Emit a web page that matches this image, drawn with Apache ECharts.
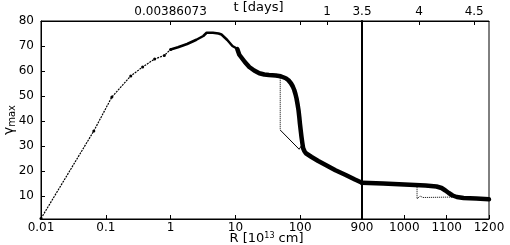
<!DOCTYPE html>
<html><head><meta charset="utf-8">
<script src="https://cdn.jsdelivr.net/npm/echarts@6/dist/echarts.min.js"></script>
<style>html,body{margin:0;padding:0;background:#fff}#c{width:510px;height:245px}</style>
</head><body><div id="c"></div>
<script>
// ---- data ----
const bottomTicksLog = [0.01, 0.1, 1, 10, 100];
const bottomTicksLin = [900, 1000, 1100, 1200];
const yTicks = [10, 20, 30, 40, 50, 60, 70, 80];
const topTickR = [1, 260, 900, 1035, 1165];
const topTickLabels = ['0.00386073', '1', '3.5', '4', '4.5'];
const topMinorR = [10, 100];

const earlyR = [0.01, 0.0653, 0.124, 0.243, 0.37, 0.567, 0.8, 1.0];
const earlyG = [1, 36, 49.6, 58, 61.6, 64.8, 66.2, 68.6];

const peakR = [1.0, 1.3, 1.8, 2.5, 3.2, 3.6, 4.5, 5.5, 6.1, 7.5, 9.0, 10.2, 10.7];
const peakG = [68.6, 69.5, 70.8, 72.5, 74, 75.3, 75.3, 75, 74.6, 72.4, 70, 69.2, 68.8];

const mainR = [10.7, 11.5, 12.4, 14, 16.4, 19.5, 23.4, 28, 33, 42, 50, 60, 66, 72, 77, 81, 84.5, 87.7, 91, 94.2, 97, 99, 102, 104.7, 108, 111.2, 116, 122.4, 150, 190, 248, 350, 505, 700, 900];
const mainG = [68.8, 66.5, 65.4, 63.6, 61.6, 60.2, 59.1, 58.6, 58.4, 58.2, 57.9, 57.1, 56.3, 55.1, 53.8, 52.4, 50.8, 49.1, 46.8, 44.4, 41.5, 39.1, 36.2, 33.7, 31.2, 29.1, 28.0, 27.1, 25.6, 24.0, 22.4, 20.3, 18.4, 16.6, 15.3];

const lateR = [900, 950, 1000, 1050, 1076, 1088, 1097, 1105, 1114, 1124, 1140, 1170, 1200];
const lateG = [15.3, 15.0, 14.6, 14.2, 13.8, 13.2, 12.2, 11.2, 10.2, 9.6, 9.2, 9.0, 8.7];

const dropAR = [49.2, 49.2];
const dropAG = [57.9, 36.4];
const tailAR = [49.2, 96.5, 105];
const tailAG = [36.4, 28.7, 30.2];

const dropBR = [1030, 1030, 1037, 1044, 1124];
const dropBG = [14.5, 8.8, 10.0, 9.4, 9.6];

// ---- helpers ----
const zip = (xs, ys) => xs.map((x, i) => [x, ys[i]]);
const fmtNum = v => String(Number(Number(v).toPrecision(6)));
const nearestTop = v => {
  let best = 0, bd = Infinity;
  topTickR.forEach((r, i) => { const d = Math.abs(Math.log10(r) - Math.log10(v)); if (d < bd) { bd = d; best = i; } });
  return topTickLabels[best];
};
const FONT = 'DejaVu Sans';
const lbl = { color: '#000', fontFamily: FONT, fontSize: 12 };
const axLine = { show: true, lineStyle: { color: '#000', width: 1 } };
const tick = (vals) => ({ show: true, inside: true, length: 4, customValues: vals, lineStyle: { color: '#000', width: 1 } });
const gridBase = { top: 21, height: 198, show: true, borderColor: '#000', borderWidth: 1, backgroundColor: 'transparent', containLabel: false, outerBoundsMode: 'none' };

const chart = echarts.init(document.getElementById('c'), null, { renderer: 'canvas' });
chart.setOption({
  animation: false,
  backgroundColor: '#fff',
  grid: [
    Object.assign({ left: 41, width: 321 }, gridBase),
    Object.assign({ left: 362, width: 127 }, gridBase)
  ],
  xAxis: [
    { gridIndex: 0, type: 'log', logBase: 10, min: 0.01, max: 900, position: 'bottom',
      axisLine: axLine, axisTick: tick(bottomTicksLog), splitLine: { show: false }, minorTick: { show: false },
      axisLabel: Object.assign({ customValues: bottomTicksLog, margin: 3, formatter: fmtNum }, lbl),
      name: '{m|R [10}{sup|13}{m| cm]}', nameLocation: 'middle', nameGap: 13, nameMoveOverlap: false,
      nameTextStyle: Object.assign({}, lbl, { fontSize: 13, lineHeight: 13, padding: [0, 0, 0, 130],
        rich: { m: { fontSize: 13, lineHeight: 13, fontFamily: FONT, color: '#000', verticalAlign: 'bottom' },
                sup: { fontSize: 8, lineHeight: 13, verticalAlign: 'top', fontFamily: FONT, color: '#000' } } }) },
    { gridIndex: 0, type: 'log', logBase: 10, min: 0.01, max: 900, position: 'top',
      axisLine: axLine, axisTick: tick(topTickR.filter(r => r < 900).concat(topMinorR)), splitLine: { show: false },
      axisLabel: Object.assign({ customValues: topTickR.filter(r => r < 900), margin: 3, formatter: nearestTop }, lbl),
      name: 't [days]', nameLocation: 'middle', nameGap: 7, nameMoveOverlap: false,
      nameTextStyle: Object.assign({}, lbl, { fontSize: 13, padding: [0, 0, 0, 114] }) },
    { gridIndex: 1, type: 'value', min: 900, max: 1200, position: 'bottom',
      axisLine: axLine, axisTick: tick(bottomTicksLin), splitLine: { show: false },
      axisLabel: Object.assign({ customValues: bottomTicksLin, margin: 3, formatter: fmtNum }, lbl) },
    { gridIndex: 1, type: 'value', min: 900, max: 1200, position: 'top',
      axisLine: axLine, axisTick: tick(topTickR.filter(r => r >= 900)), splitLine: { show: false },
      axisLabel: Object.assign({ customValues: topTickR.filter(r => r >= 900), margin: 3, formatter: nearestTop }, lbl) }
  ],
  yAxis: [
    { gridIndex: 0, type: 'value', min: 0.8, max: 80, position: 'left',
      axisLine: axLine, axisTick: tick(yTicks), splitLine: { show: false },
      axisLabel: Object.assign({ customValues: yTicks, margin: 7, formatter: fmtNum }, lbl),
      name: '{g|γ}{sub|max}', nameLocation: 'middle', nameGap: 24, nameRotate: 90, nameMoveOverlap: false,
      nameTextStyle: Object.assign({ rich: { g: { fontSize: 14, fontFamily: FONT, color: '#000' }, sub: { fontSize: 10, fontFamily: FONT, color: '#000', verticalAlign: 'bottom', padding: [6, 0, 0, 0] } } }, lbl) },
    { gridIndex: 1, type: 'value', min: 0.8, max: 80, position: 'left',
      axisLine: { show: true, lineStyle: { color: '#000', width: 2 } }, axisTick: { show: false }, axisLabel: { show: false }, splitLine: { show: false } }
  ],
  series: [
    { type: 'line', xAxisIndex: 0, yAxisIndex: 0, data: zip(earlyR, earlyG), symbol: 'circle', symbolSize: 3, showSymbol: true,
      itemStyle: { color: '#000' }, lineStyle: { color: '#000', width: 1.2, type: [2, 1] } },
    { type: 'line', xAxisIndex: 0, yAxisIndex: 0, data: zip(peakR, peakG), symbol: 'none',
      lineStyle: { color: '#000', width: 2.5 } },
    { type: 'line', xAxisIndex: 0, yAxisIndex: 0, data: zip(mainR, mainG), symbol: 'none',
      lineStyle: { color: '#000', width: 4.5, join: 'round', cap: 'round' } },
    { type: 'line', xAxisIndex: 0, yAxisIndex: 0, data: zip(dropAR, dropAG), symbol: 'none',
      lineStyle: { color: '#000', width: 1, type: [1, 1] } },
    { type: 'line', xAxisIndex: 0, yAxisIndex: 0, data: zip(tailAR, tailAG), symbol: 'none',
      lineStyle: { color: '#000', width: 1 } },
    { type: 'line', xAxisIndex: 2, yAxisIndex: 1, data: zip(lateR, lateG), symbol: 'none',
      lineStyle: { color: '#000', width: 4.5, join: 'round', cap: 'round' } },
    { type: 'line', xAxisIndex: 2, yAxisIndex: 1, data: zip(dropBR, dropBG), symbol: 'none',
      lineStyle: { color: '#000', width: 1, type: [1, 1] } }
  ]
});
</script></body></html>
